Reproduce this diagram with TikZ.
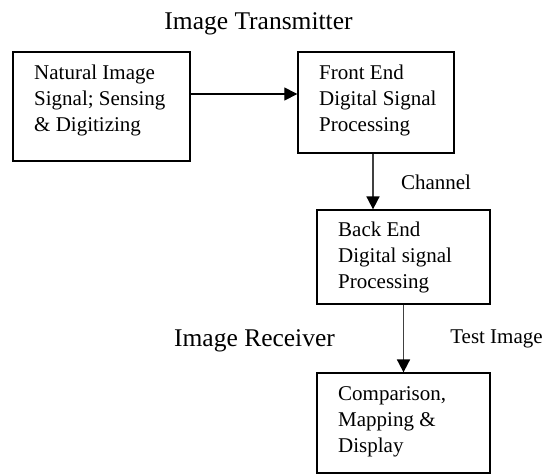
\documentclass[tikz,border=0pt]{standalone}
\usepackage{fontspec}
\setmainfont{Liberation Serif}
\usetikzlibrary{arrows.meta}
\begin{document}
\begin{tikzpicture}[x=1pt,y=1pt,
  blockbox/.style={draw=black, line width=1.3pt, rectangle, inner sep=0pt},
  blocktext/.style={anchor=west, inner sep=0pt, align=left,
    font=\fontsize{21}{26}\selectfont},
  heading/.style={anchor=base, inner sep=0pt, font=\fontsize{25.5}{30}\selectfont},
  edgelabel/.style={anchor=base, inner sep=0pt, font=\fontsize{21}{26}\selectfont},
  flow/.style={line width=1.1pt, -{Triangle[length=13pt,width=13pt]}},
  vflow/.style={line width=1.8pt, draw=black!75, -{Triangle[length=13pt,width=13pt,fill=black,color=black]}}
]
\useasboundingbox (0,0) rectangle (555,-475);

% blocks
\node[blockbox, minimum width=177, minimum height=109] (b1) at (101.5,-106.5) {};
\node[blockbox, minimum width=156, minimum height=101] (b2) at (376,-102.5) {};
\node[blockbox, minimum width=173, minimum height=94]  (b3) at (403.5,-257) {};
\node[blockbox, minimum width=173, minimum height=100] (b4) at (403.5,-423) {};

% block texts
\node[blocktext] (t1) at (34,-100) {Natural Image\\Signal; Sensing\\\& Digitizing};
\node[blocktext] (t2) at (319,-100) {Front End\\Digital Signal\\Processing};
\node[blocktext] (t3) at (338,-257) {Back End\\Digital signal\\Processing};
\node[blocktext] (t4) at (338,-422) {Comparison,\\Mapping \&\\Display};

% headings and labels
\node[heading] (h1) at (258.5,-29) {Image Transmitter};
\node[heading] (h2) at (254.5,-346) {Image Receiver};
\node[edgelabel] (l1) at (436,-189) {Channel};
\node[edgelabel] (l2) at (496.5,-343) {Test Image};

% connectors
\coordinate (a1) at ([yshift=12.5]b1.east);
\draw[flow] (a1) -- (a1 -| b2.west);
\coordinate (a2) at ([xshift=-3]b2.south);
\draw[vflow] (a2) -- (a2 |- b3.north);
\draw[vflow] (b3.south) -- (b4.north);
\end{tikzpicture}
\end{document}
